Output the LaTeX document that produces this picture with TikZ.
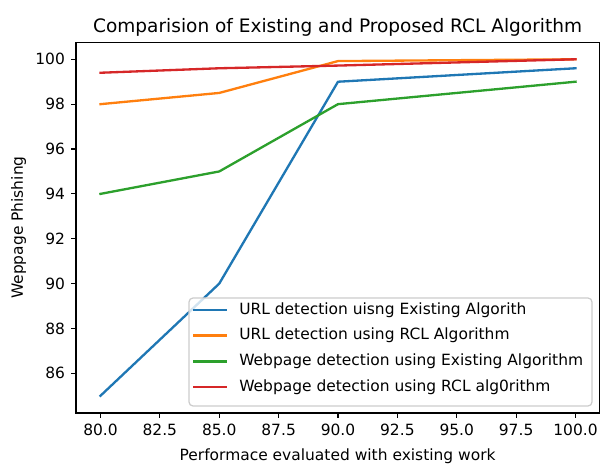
\documentclass[tikz,border=0pt]{standalone}
\usepackage{fontspec}
\setmainfont{DejaVu Sans}
\definecolor{tabblue}{HTML}{1F77B4}
\definecolor{taborange}{HTML}{FF7F0E}
\definecolor{tabgreen}{HTML}{2CA02C}
\definecolor{tabred}{HTML}{D62728}
\definecolor{legedge}{HTML}{CCCCCC}
\begin{document}
\begin{tikzpicture}[x=0.75pt,y=-0.75pt,
  declare function={X(\v)=100.5+(\v-80)*23.75; Y(\v)=59.3+(100-\v)*22.43;},
  ticklab/.style={font=\fontsize{11.6}{13.9}\selectfont, inner sep=0pt},
  lablab/.style={font=\fontsize{11.6}{13.9}\selectfont, inner sep=0pt},
  titlelab/.style={font=\fontsize{13.9}{16.7}\selectfont, inner sep=0pt},
  spine/.style={line width=0.93pt, line cap=rect},
  tickmark/.style={line width=0.93pt},
  series/.style={line width=1.74pt, line join=round, line cap=rect},
  legbox/.style={draw=legedge, line width=0.93pt, fill=white, fill opacity=0.8, rounded corners=3pt},
  legline/.style={line width=1.74pt, line cap=rect},
]
\useasboundingbox (0,0) rectangle (600,466);
% series
\draw[series, tabblue] ({X(80)},{Y(85)}) -- ({X(85)},{Y(90)}) -- ({X(90)},{Y(99)}) -- ({X(100)},{Y(99.6)});
\draw[series, taborange] ({X(80)},{Y(98)}) -- ({X(85)},{Y(98.5)}) -- ({X(90)},{Y(99.92)}) -- ({X(100)},{Y(100)});
\draw[series, tabgreen] ({X(80)},{Y(94)}) -- ({X(85)},{Y(95)}) -- ({X(90)},{Y(98)}) -- ({X(100)},{Y(99)});
\draw[series, tabred] ({X(80)},{Y(99.4)}) -- ({X(85)},{Y(99.6)}) -- ({X(90)},{Y(99.72)}) -- ({X(100)},{Y(100)});
% axes frame
\draw[spine] (76,42.3) rectangle (599.3,413);
% x ticks
\foreach \t/\l [count=\i] in {80/80.0,82.5/82.5,85/85.0,87.5/87.5,90/90.0,92.5/92.5,95/95.0,97.5/97.5,100/100.0}{
  \draw[tickmark] ({X(\t)},413) -- ({X(\t)},418.4);
  \node[ticklab, anchor=north] (xt\i) at ({X(\t)},424.2) {\l};
}
% y ticks
\foreach \t [count=\i] in {86,88,90,92,94,96,98,100}{
  \draw[tickmark] (76,{Y(\t)}) -- (70.6,{Y(\t)});
  \node[ticklab, anchor=east] (yt\i) at (65.2,{Y(\t)}) {\t};
}
% labels
\node[lablab] (xlabel) at (337.6,456.5) {Performace evaluated with existing work};
\node[lablab, rotate=90] (ylabel) at (18.5,227.6) {Weppage Phishing};
\node[titlelab, anchor=base] (title) at (337.6,33) {Comparision of Existing and Proposed RCL Algorithm};
% legend
\draw[legbox] (189,298) rectangle (592,406);
\foreach \c/\txt [count=\i] in {tabblue/URL detection uisng Existing Algorith,
  taborange/URL detection using RCL Algorithm,
  tabgreen/Webpage detection using Existing Algorithm,
  tabred/Webpage detection using RCL alg0rithm}{
  \coordinate (la\i) at (194,{309.8+(\i-1)*25.8});
  \coordinate (lb\i) at (226,{309.8+(\i-1)*25.8});
  \draw[legline, \c] (la\i) -- (lb\i);
  \node[lablab, anchor=west] (lt\i) at (239,{309.8+(\i-1)*25.8}) {\txt};
}
\end{tikzpicture}
\end{document}
